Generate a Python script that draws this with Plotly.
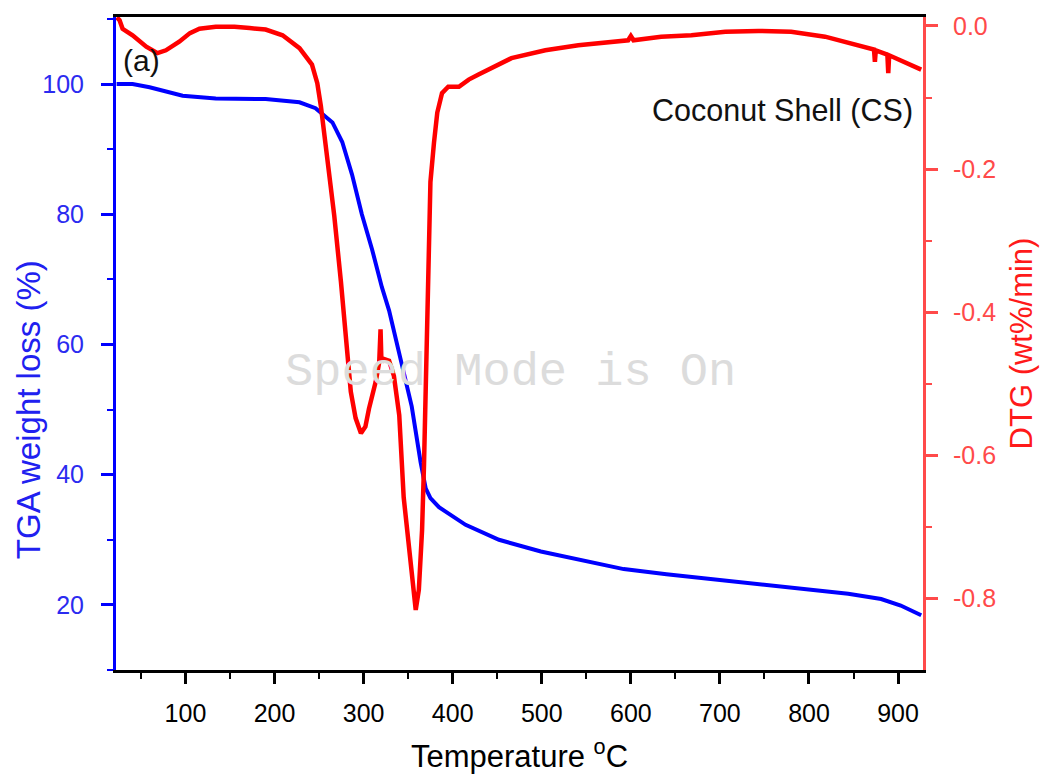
import plotly.graph_objects as go

# TGA data (temperature in degC, weight %)
tga_temp = [22.7, 26, 40.6, 59.7, 78, 96.8, 134, 160, 190, 228, 246, 265, 276, 287, 298,
            309.5, 320.5, 328.6, 343, 354, 364, 369.7, 375, 384.6, 414.5, 452, 499, 550,
            592, 640, 688, 740, 785, 844, 881, 903, 926]
tga_weight = [100, 100, 100, 99.5, 98.9, 98.2, 97.8, 97.8, 97.7, 97.2, 96.3, 94.1, 91.1, 86.1, 80.0,
              74.6, 68.8, 65.2, 57.0, 50.5, 41.9, 37.9, 36.4, 35.0, 32.3, 30.0, 28.2, 26.8,
              25.5, 24.7, 24.0, 23.3, 22.7, 21.7, 20.9, 19.9, 18.4]

# DTG data (temperature in degC, wt%/min)
dtg_temp = [23, 26, 29.4, 40.6, 56, 68.6, 78, 93, 105, 115.7, 134, 155, 172, 190, 209, 228, 242,
            248, 252, 259, 267, 274.5, 281.5, 285.6, 291, 297, 302, 306, 313.6, 317.5, 319, 320,
            322, 328.6, 334, 340, 345, 351, 356.6, 358.5, 362, 365.6, 367.8, 369.7, 371.5, 373,
            375, 379, 382.7, 388, 395, 407, 418, 429, 466, 504, 541, 597, 600, 603, 634, 668,
            706, 743, 780, 818, 855, 873, 874, 875, 888, 889, 890, 905, 926]
dtg_value = [0.012, 0.008, -0.004, -0.013, -0.029, -0.038, -0.034, -0.022, -0.010, -0.004, -0.001,
             -0.001, -0.003, -0.005, -0.013, -0.031, -0.054, -0.080, -0.112, -0.181, -0.265,
             -0.357, -0.452, -0.511, -0.548, -0.569, -0.560, -0.535, -0.497, -0.470, -0.424,
             -0.470, -0.465, -0.468, -0.489, -0.544, -0.659, -0.729, -0.798, -0.816, -0.788,
             -0.705, -0.613, -0.511, -0.420, -0.310, -0.218, -0.163, -0.121, -0.094, -0.085,
             -0.085, -0.075, -0.068, -0.045, -0.034, -0.027, -0.020, -0.014, -0.020, -0.015,
             -0.013, -0.008, -0.007, -0.008, -0.015, -0.027, -0.033, -0.050, -0.034, -0.040,
             -0.066, -0.041, -0.050, -0.061]

# right-axis tick values and labels (hyphen minus as in the original)
dtg_tickvals = [0.0, -0.2, -0.4, -0.6, -0.8]
dtg_ticktext = ["0.0", "-0.2", "-0.4", "-0.6", "-0.8"]

FONT = "Liberation Sans, Arial, sans-serif"
BLUE = "#0000FF"
RED = "#FF0000"
RED_AXIS = "#FF4A4A"

fig = go.Figure()
fig.add_trace(go.Scatter(x=tga_temp, y=tga_weight, mode="lines",
                         line=dict(color=BLUE, width=4), yaxis="y", showlegend=False))
fig.add_trace(go.Scatter(x=dtg_temp, y=dtg_value, mode="lines",
                         line=dict(color=RED, width=4.5), yaxis="y2", showlegend=False))

fig.update_layout(
    width=1046, height=781,
    margin=dict(l=116, r=122, t=15, b=103),
    paper_bgcolor="white", plot_bgcolor="white",
    font=dict(family=FONT, color="black"),
    xaxis=dict(
        range=[22, 928], tick0=100, dtick=100, showgrid=False, zeroline=False,
        showline=True, linecolor="black", linewidth=3, mirror=True,
        ticks="outside", ticklen=11, tickwidth=2.5, tickcolor="black",
        tickfont=dict(size=25, color="black", family=FONT),
        ticklabelstandoff=8,
        minor=dict(dtick=50, tick0=50, ticks="outside", ticklen=6, tickwidth=2, tickcolor="black"),
        title=dict(text="Temperature <sup>o</sup>C", font=dict(size=31, color="black", family=FONT),
                   standoff=20),
    ),
    yaxis=dict(
        range=[10, 110.3], tick0=20, dtick=20, showgrid=False, zeroline=False,
        showline=True, linecolor=BLUE, linewidth=3,
        ticks="outside", ticklen=12, tickwidth=2.5, tickcolor=BLUE,
        tickfont=dict(size=25, color="#2B2BF0", family=FONT),
        ticklabelstandoff=12,
        minor=dict(dtick=10, tick0=10, ticks="outside", ticklen=6, tickwidth=2, tickcolor=BLUE),
    ),
    yaxis2=dict(
        range=[-0.9, 0.0125], tickvals=dtg_tickvals, ticktext=dtg_ticktext,
        overlaying="y", side="right",
        showgrid=False, zeroline=False,
        showline=True, linecolor=RED_AXIS, linewidth=3,
        ticks="outside", ticklen=12, tickwidth=2.5, tickcolor=RED_AXIS,
        tickfont=dict(size=25, color=RED_AXIS, family=FONT),
        ticklabelstandoff=10,
        minor=dict(tickvals=[-0.1, -0.3, -0.5, -0.7], ticks="outside", ticklen=6, tickwidth=2,
                   tickcolor=RED_AXIS),
        title=dict(text="DTG (wt%/min)", font=dict(size=31, color="#FF1A1A", family=FONT),
                   standoff=16),
    ),
    annotations=[
        dict(text="TGA weight loss (%)", xref="paper", yref="paper", x=-0.109, y=0.398,
             xanchor="center", yanchor="middle", textangle=-90, showarrow=False,
             font=dict(size=33, color="#2020F0", family=FONT)),
        dict(text="(a)", xref="paper", yref="paper", x=0.006, y=0.934, xanchor="left",
             yanchor="middle", showarrow=False, font=dict(size=30, color="#111111", family=FONT)),
        dict(text="Coconut Shell (CS)", xref="paper", yref="paper", x=0.99, y=0.857,
             xanchor="right", yanchor="middle", showarrow=False,
             font=dict(size=30.5, color="#111111", family=FONT)),
        dict(text="Speed Mode is On", xref="paper", yref="paper", x=0.489, y=0.456,
             xanchor="center", yanchor="middle", showarrow=False,
             font=dict(size=47, color="#DCDCDC", family="Liberation Mono, monospace")),
    ],
)

fig.write_html("out.html")
